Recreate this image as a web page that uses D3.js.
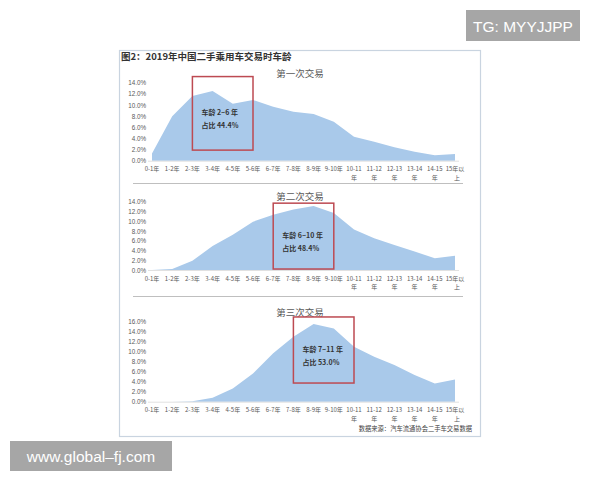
<!DOCTYPE html>
<html>
<head>
<meta charset="utf-8">
<script src="https://cdn.jsdelivr.net/npm/d3@7"></script>
<style>
  html, body { margin: 0; padding: 0; background: #ffffff; }
  svg { display: block; }
</style>
</head>
<body>
<svg id="chart" width="600" height="480"></svg>
<script>
// ---------- DATA ----------
const categories = ["0-1年","1-2年","2-3年","3-4年","4-5年","5-6年","6-7年","7-8年","8-9年","9-10年","10-11年","11-12年","12-13年","13-14年","14-15年","15年以上"];
const firstTrade  = [1.3, 8.0, 11.6, 12.5, 10.2, 10.9, 9.7, 8.8, 8.4, 7.0, 4.3, 3.4, 2.4, 1.6, 1.0, 1.2];
const secondTrade = [0.0, 0.2, 1.9, 4.9, 7.2, 9.9, 11.3, 12.4, 13.1, 11.7, 8.3, 6.5, 5.1, 3.8, 2.4, 2.9];
const thirdTrade  = [0.0, 0.0, 0.1, 0.8, 2.6, 5.6, 9.6, 12.9, 15.4, 14.5, 10.9, 8.9, 7.3, 5.3, 3.6, 4.4];
const panelTitles = ["第一次交易", "第二次交易", "第三次交易"];
const yTicks1 = [0, 2, 4, 6, 8, 10, 12, 14];
const yTicks2 = [0, 2, 4, 6, 8, 10, 12, 14];
const yTicks3 = [0, 2, 4, 6, 8, 10, 12, 14, 16];
// highlight boxes: [from category index, to category index, top %, bottom %]
const highlightSpans = [[2, 5, 15.1, 1.9], [6, 9, 13.7, 0.2], [7, 10, 16.8, 3.7]];
const highlightLine1 = ["车龄 2~6 年", "车龄 6~10 年", "车龄 7~11 年"];
const highlightLine2 = ["占比 44.4%", "占比 48.4%", "占比 53.0%"];
const chartTitle = "图2：2019年中国二手乘用车交易时车龄";
const sourceText = "数据来源：汽车流通协会二手车交易数据";

// ---------- LAYOUT ----------
const svg = d3.select("#chart");
const CJK = "'Noto Sans CJK SC', 'Noto Sans', sans-serif";
const NUM = "'Liberation Sans', Arial, sans-serif";
const areaColor = "#a9c9ea";
const boxColor = "#bd4a52";
const textGray = "#595959";

// outer frame
svg.append("rect").attr("x", 119.5).attr("y", 50.5).attr("width", 361).attr("height", 386)
  .attr("fill", "#fff").attr("stroke", "#c9d4e0").attr("stroke-width", 1.2);

svg.append("text").attr("x", 121).attr("y", 60)
  .attr("font-family", CJK).attr("font-size", 9.5).attr("font-weight", "bold")
  .attr("fill", "#333").text(chartTitle);

// separators
[183.5, 296.5].forEach(y => {
  svg.append("line").attr("x1", 133).attr("x2", 463).attr("y1", y).attr("y2", y)
    .attr("stroke", "#bfbfbf").attr("stroke-width", 1);
});

const x = d3.scalePoint().domain(categories).range([152, 455]);

const panels = [
  { data: firstTrade,  ticks: yTicks1, y0: 160.7, yMaxPx: 82.7, titleY: 77 },
  { data: secondTrade, ticks: yTicks2, y0: 270.0, yMaxPx: 201.7, titleY: 200 },
  { data: thirdTrade,  ticks: yTicks3, y0: 401.7, yMaxPx: 321.0, titleY: 316 }
];

panels.forEach((p, i) => {
  const yMax = p.ticks[p.ticks.length - 1];
  const y = d3.scaleLinear().domain([0, yMax]).range([p.y0, p.yMaxPx]);
  const g = svg.append("g");

  // title
  g.append("text").attr("x", 300).attr("y", p.titleY).attr("text-anchor", "middle")
    .attr("font-family", CJK).attr("font-size", 9.5).attr("fill", textGray)
    .text(panelTitles[i]);

  // area
  const area = d3.area()
    .x((d, k) => x(categories[k]))
    .y0(y(0))
    .y1(d => y(d));
  g.append("path").datum(p.data).attr("d", area).attr("fill", areaColor);

  // y axis (labels only)
  const yAxis = d3.axisLeft(y).tickValues(p.ticks).tickSize(0).tickPadding(0)
    .tickFormat(d => d3.format(".1f")(d) + "%");
  const ya = g.append("g").attr("transform", "translate(146,0)").call(yAxis);
  ya.select(".domain").remove();
  ya.selectAll("text").attr("font-family", NUM).attr("font-size", 6.3).attr("fill", textGray);

  // x axis baseline
  g.append("line").attr("x1", 148).attr("x2", 459).attr("y1", p.y0 + 0.5).attr("y2", p.y0 + 0.5)
    .attr("stroke", "#d9d9d9").attr("stroke-width", 0.8);

  // x labels (two lines for long ones)
  const xa = g.append("g").attr("transform", `translate(0,${p.y0})`)
    .call(d3.axisBottom(x).tickSize(0).tickFormat(""));
  xa.select(".domain").remove();
  categories.forEach(c => {
    let l1 = c, l2 = null;
    if (c === "15年以上") { l1 = "15年以"; l2 = "上"; }
    else if (c.length >= 6) { l1 = c.replace("年", ""); l2 = "年"; }
    g.append("text").attr("x", x(c)).attr("y", p.y0 + 10.5)
      .attr("text-anchor", "middle").attr("font-family", CJK)
      .attr("font-size", 6).attr("fill", textGray).text(l1);
    if (l2) {
      g.append("text").attr("x", x(c) + (c === "15年以上" ? 2 : 0)).attr("y", p.y0 + 19)
        .attr("text-anchor", "middle").attr("font-family", CJK)
        .attr("font-size", 6).attr("fill", textGray).text(l2);
    }
  });

  // highlight box
  const s = highlightSpans[i];
  const bx0 = x(categories[s[0]]), bx1 = x(categories[s[1]]);
  const by0 = y(s[2]), by1 = y(s[3]);
  g.append("rect").attr("x", bx0).attr("y", by0).attr("width", bx1 - bx0).attr("height", by1 - by0)
    .attr("fill", "none").attr("stroke", boxColor).attr("stroke-width", 1.5);
  const tx = bx0 + 9;
  const midY = (by0 + by1) / 2;
  g.append("text").attr("x", tx).attr("y", midY + 2)
    .attr("font-family", CJK).attr("font-size", 7).attr("font-weight", "bold").attr("fill", "#333")
    .text(highlightLine1[i]);
  g.append("text").attr("x", tx).attr("y", midY + 15)
    .attr("font-family", CJK).attr("font-size", 7).attr("font-weight", "bold").attr("fill", "#333")
    .text(highlightLine2[i]);
});

// source
svg.append("text").attr("x", 472).attr("y", 431).attr("text-anchor", "end")
  .attr("font-family", CJK).attr("font-size", 6.3).attr("fill", "#444").text(sourceText);

// corner badges
svg.append("rect").attr("x", 466).attr("y", 10).attr("width", 114).attr("height", 31).attr("fill", "#a6a6a6");
svg.append("text").attr("x", 523).attr("y", 31.5).attr("text-anchor", "middle")
  .attr("font-family", "'Liberation Sans', Arial, sans-serif").attr("font-size", 15.5).attr("fill", "#fff")
  .text("TG: MYYJJPP");
svg.append("rect").attr("x", 10).attr("y", 441).attr("width", 162).attr("height", 30).attr("fill", "#a6a6a6");
svg.append("text").attr("x", 91).attr("y", 462).attr("text-anchor", "middle")
  .attr("font-family", "'Liberation Sans', Arial, sans-serif").attr("font-size", 15.5).attr("fill", "#fff")
  .text("www.global\u2013fj.com");
</script>
</body>
</html>
